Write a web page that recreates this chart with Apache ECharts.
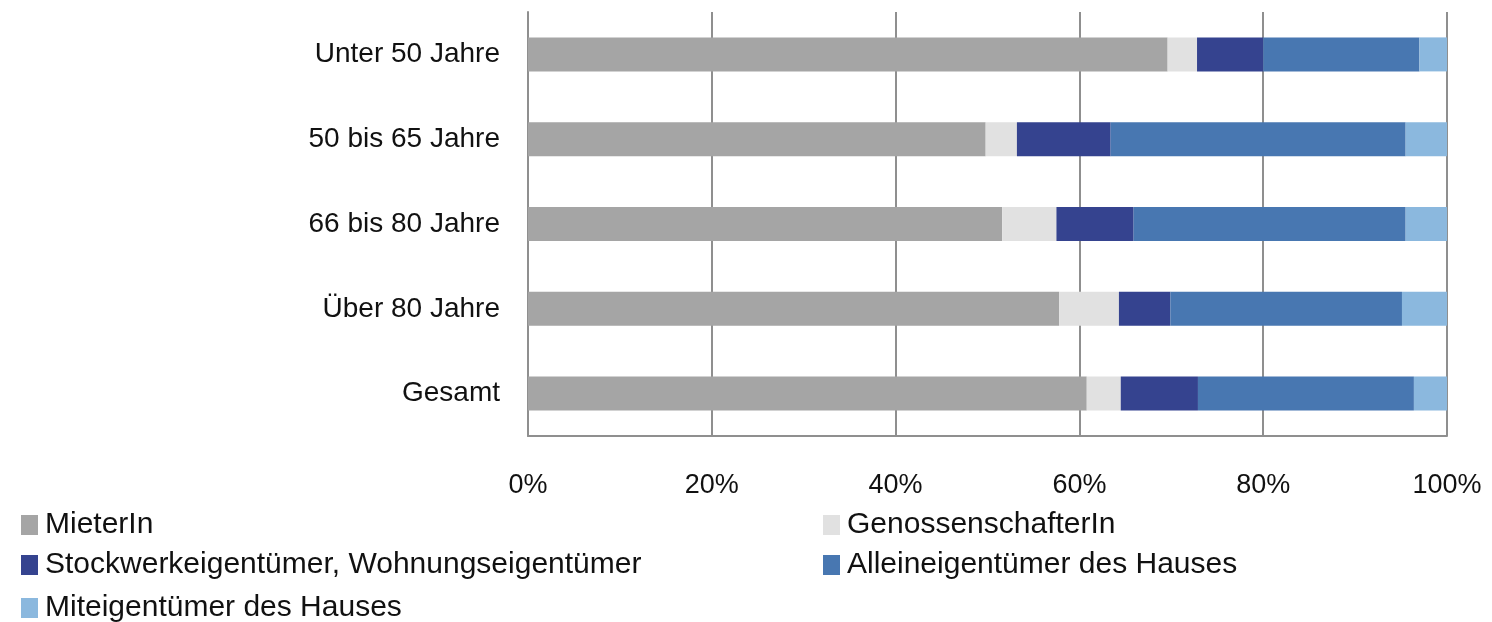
<!DOCTYPE html>
<html>
<head>
<meta charset="utf-8">
<script src="https://cdn.jsdelivr.net/npm/echarts@6/dist/echarts.min.js"></script>
<style>
html, body { margin: 0; padding: 0; background: #fff; }
#chart { width: 1492px; height: 622px; }
</style>
</head>
<body>
<div id="chart"></div>
<script>
var categories = ['Unter 50 Jahre', '50 bis 65 Jahre', '66 bis 80 Jahre', 'Über 80 Jahre', 'Gesamt'];
var seriesNames = ['MieterIn', 'GenossenschafterIn', 'Stockwerkeigentümer, Wohnungseigentümer', 'Alleineigentümer des Hauses', 'Miteigentümer des Hauses'];
var mieter = [69.6, 49.8, 51.6, 57.8, 60.8];
var genossen = [3.2, 3.4, 5.9, 6.5, 3.7];
var stockwerk = [7.2, 10.2, 8.4, 5.6, 8.4];
var allein = [17.0, 32.1, 29.6, 25.2, 23.5];
var mit = [3.0, 4.5, 4.5, 4.9, 3.6];
var colors = ['#a5a5a5', '#e1e1e1', '#35438f', '#4877b1', '#8bb8de'];

var chart = echarts.init(document.getElementById('chart'));
var values = [mieter, genossen, stockwerk, allein, mit];
var series = values.map(function (d, i) {
    return {
        name: seriesNames[i],
        type: 'bar',
        stack: 'total',
        barWidth: 34,
        itemStyle: { color: colors[i] },
        data: d
    };
});

// legend laid out like the original: two columns, three rows
var legendPos = [[16, 505], [818, 505], [16, 545], [818, 545], [16, 588]];
var legends = seriesNames.map(function (name, i) {
    return {
        left: legendPos[i][0], top: legendPos[i][1],
        itemWidth: 17, itemHeight: 20,
        icon: 'rect',
        textStyle: { fontFamily: 'Liberation Sans', fontSize: 30, color: '#111', padding: [0, 0, 0, 2] },
        data: [name]
    };
});

var option = {
    animation: false,
    textStyle: { fontFamily: 'Liberation Sans' },
    grid: { left: 528, right: 45, top: 12, bottom: 186 },
    legend: legends,
    xAxis: {
        type: 'value',
        min: 0, max: 100, interval: 20,
        axisLine: { show: true, lineStyle: { color: '#8f8f8f', width: 2 } },
        axisTick: { show: false },
        splitLine: { show: true, lineStyle: { color: '#8f8f8f', width: 2 } },
        axisLabel: { formatter: '{value}%', fontSize: 27, color: '#111', margin: 36 }
    },
    yAxis: {
        type: 'category',
        inverse: true,
        data: categories,
        axisLine: { show: true, lineStyle: { color: '#8f8f8f', width: 2 } },
        axisTick: { show: false },
        axisLabel: { fontSize: 28, color: '#111', margin: 28 }
    },
    series: series
};
chart.setOption(option);
</script>
</body>
</html>
